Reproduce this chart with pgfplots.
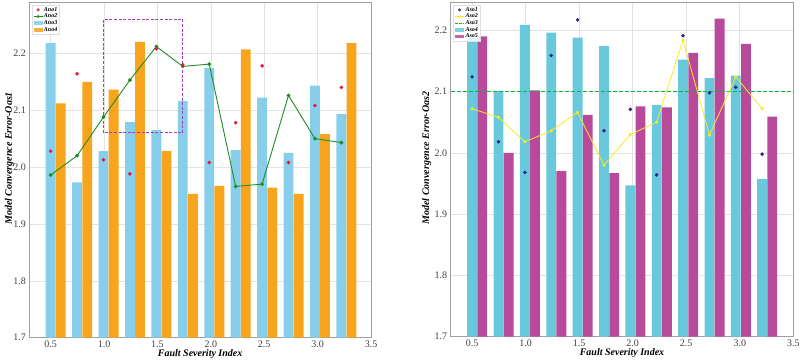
\documentclass[border=0pt]{standalone}
\usepackage{fontspec}
\setmainfont{Liberation Serif}
\usepackage{pgfplots}
\pgfplotsset{compat=1.18}
\usepackage{pgfplotstable}

\definecolor{cSky}{RGB}{135,206,235}
\definecolor{cOrange}{RGB}{248,164,28}
\definecolor{cRed}{RGB}{232,22,62}
\definecolor{cGreen}{RGB}{34,139,34}
\definecolor{cCyan}{RGB}{104,201,220}
\definecolor{cMag}{RGB}{184,74,156}
\definecolor{cNavy}{RGB}{40,40,130}
\definecolor{cYellow}{RGB}{250,232,40}
\definecolor{cDGreen}{RGB}{20,175,60}
\definecolor{cPurple}{RGB}{165,60,185}

\pgfplotstableread{
x a1 a2 a3 a4
0.5000 2.028 1.986 2.218 2.112
0.7475 2.164 2.020 1.973 2.150
0.9950 2.013 2.088 2.028 2.136
1.2425 1.988 2.153 2.079 2.220
1.4900 2.208 2.212 2.065 2.028
1.7375 2.180 2.177 2.116 1.953
1.9850 2.008 2.181 2.174 1.967
2.2325 2.078 1.966 2.030 2.207
2.4800 2.178 1.970 2.122 1.964
2.7275 2.008 2.126 2.025 1.953
2.9750 2.108 2.050 2.143 2.058
3.2225 2.140 2.043 2.093 2.218
}\leftdata

\pgfplotstableread{
x s1 s2 s4 s5
0.500 2.124 2.072 2.188 2.190
0.746 2.018 2.058 2.101 2.000
0.993 1.968 2.018 2.209 2.102
1.239 2.159 2.036 2.196 1.970
1.485 2.217 2.066 2.188 2.062
1.732 2.036 1.980 2.174 1.967
1.978 2.071 2.030 1.947 2.076
2.224 1.964 2.050 2.078 2.074
2.470 2.191 2.184 2.152 2.163
2.717 2.098 2.029 2.122 2.219
2.963 2.107 2.124 2.126 2.178
3.209 1.998 2.072 1.957 2.059
}\rightdata

\pgfplotsset{
  barleg/.style={legend image code/.code={\fill[##1,draw=none] (0pt,-1.8pt) rectangle (9pt,1.8pt);}},
  lineleg/.style={legend image code/.code={\draw[mark repeat=2,mark phase=2,##1] plot coordinates {(0pt,0pt)(4.5pt,0pt)(9pt,0pt)};}},
  common/.style={
    scale only axis,
    anchor=south west,
    xmin=0.3, xmax=3.5, ymin=1.7,
    xtick={0.5,1.0,1.5,2.0,2.5,3.0,3.5},
    ytick={1.7,1.8,1.9,2.0,2.1,2.2},
    xticklabel style={/pgf/number format/fixed,/pgf/number format/fixed zerofill,/pgf/number format/precision=1},
    yticklabel style={/pgf/number format/fixed,/pgf/number format/fixed zerofill,/pgf/number format/precision=1},
    /pgf/number format/assume math mode=true,
    tick label style={font=\fontsize{10}{12}\selectfont, text=black!75},
    major tick length=0pt,
    grid=major,
    major grid style={draw=gray!22, line width=0.6pt},
    axis line style={draw=gray!75, line width=0.9pt},
    label style={font=\fontsize{10}{12}\selectfont\bfseries\itshape},
    xlabel={Fault Severity Index},
    xlabel style={at={(axis description cs:0.5,-0.049)}, anchor=center},
    legend style={font=\fontsize{6}{6.5}\selectfont\bfseries\itshape,
      at={(axis description cs:0.008,0.993)}, anchor=north west,
      draw=gray!25, fill=white, fill opacity=0.85, text opacity=1,
      inner sep=1pt, row sep=-0.6pt, nodes={inner sep=0.9pt}},
    legend cell align=left,
  },
}

\begin{document}
\begin{tikzpicture}
\useasboundingbox (0,0) rectangle (800pt,361pt);

\begin{axis}[common,
  at={(29.3pt,23.3pt)}, width=341.7pt, height=335pt,
  ymax=2.289,
  ylabel={Model Convergence Error-Oas1},
  ylabel style={at={(axis description cs:-0.058,0.535)}, anchor=center},
]
\addplot[ybar, bar width=0.092, bar shift=0, fill=cSky, draw=none, forget plot] table[x=x,y=a3] {\leftdata};
\addplot[ybar, bar width=0.092, bar shift=0.095, fill=cOrange, draw=none, forget plot] table[x=x,y=a4] {\leftdata};
\addplot[cGreen, line width=0.9pt, mark=*, mark size=1.4pt, forget plot] table[x=x,y=a2] {\leftdata};
\addplot[only marks, mark=*, mark size=1.6pt, cRed, forget plot] table[x=x,y=a1] {\leftdata};
\addplot[cPurple, line width=1pt, dash pattern=on 3pt off 1.6pt, forget plot] coordinates {(0.995,2.06)(0.995,2.26)(1.7375,2.26)(1.7375,2.06)(0.995,2.06)};
\addlegendimage{lineleg, only marks, mark=*, mark size=1.3pt, cRed}
\addlegendentry{Ano1}
\addlegendimage{lineleg, cGreen, line width=0.8pt, mark=*, mark size=1pt}
\addlegendentry{Ano2}
\addlegendimage{barleg, fill=cSky}
\addlegendentry{Ano3}
\addlegendimage{barleg, fill=cOrange}
\addlegendentry{Ano4}
\end{axis}

\begin{axis}[common,
  at={(450.7pt,24.3pt)}, width=342.6pt, height=334pt,
  ymax=2.245,
  ylabel={Model Convergence Error-Oas2},
  ylabel style={at={(axis description cs:-0.070,0.535)}, anchor=center},
]
\addplot[ybar, bar width=0.092, bar shift=0, fill=cCyan, draw=none, forget plot] table[x=x,y=s4] {\rightdata};
\addplot[ybar, bar width=0.092, bar shift=0.095, fill=cMag, draw=none, forget plot] table[x=x,y=s5] {\rightdata};
\addplot[cDGreen, line width=1.3pt, dash pattern=on 4pt off 2pt, forget plot] coordinates {(0.3,2.1)(3.5,2.1)};
\addplot[cYellow, line width=0.8pt, mark=*, mark size=1.2pt, forget plot] table[x=x,y=s2] {\rightdata};
\addplot[only marks, mark=*, mark size=1.6pt, cNavy, forget plot] table[x=x,y=s1] {\rightdata};
\addlegendimage{lineleg, only marks, mark=*, mark size=1.3pt, cNavy}
\addlegendentry{Aso1}
\addlegendimage{lineleg, cYellow, line width=0.8pt, mark=*, mark size=1pt}
\addlegendentry{Aso2}
\addlegendimage{lineleg, cDGreen, line width=1.1pt, dash pattern=on 2.5pt off 1.5pt}
\addlegendentry{Aso3}
\addlegendimage{barleg, fill=cCyan}
\addlegendentry{Aso4}
\addlegendimage{barleg, fill=cMag}
\addlegendentry{Aso5}
\end{axis}
\end{tikzpicture}
\end{document}
